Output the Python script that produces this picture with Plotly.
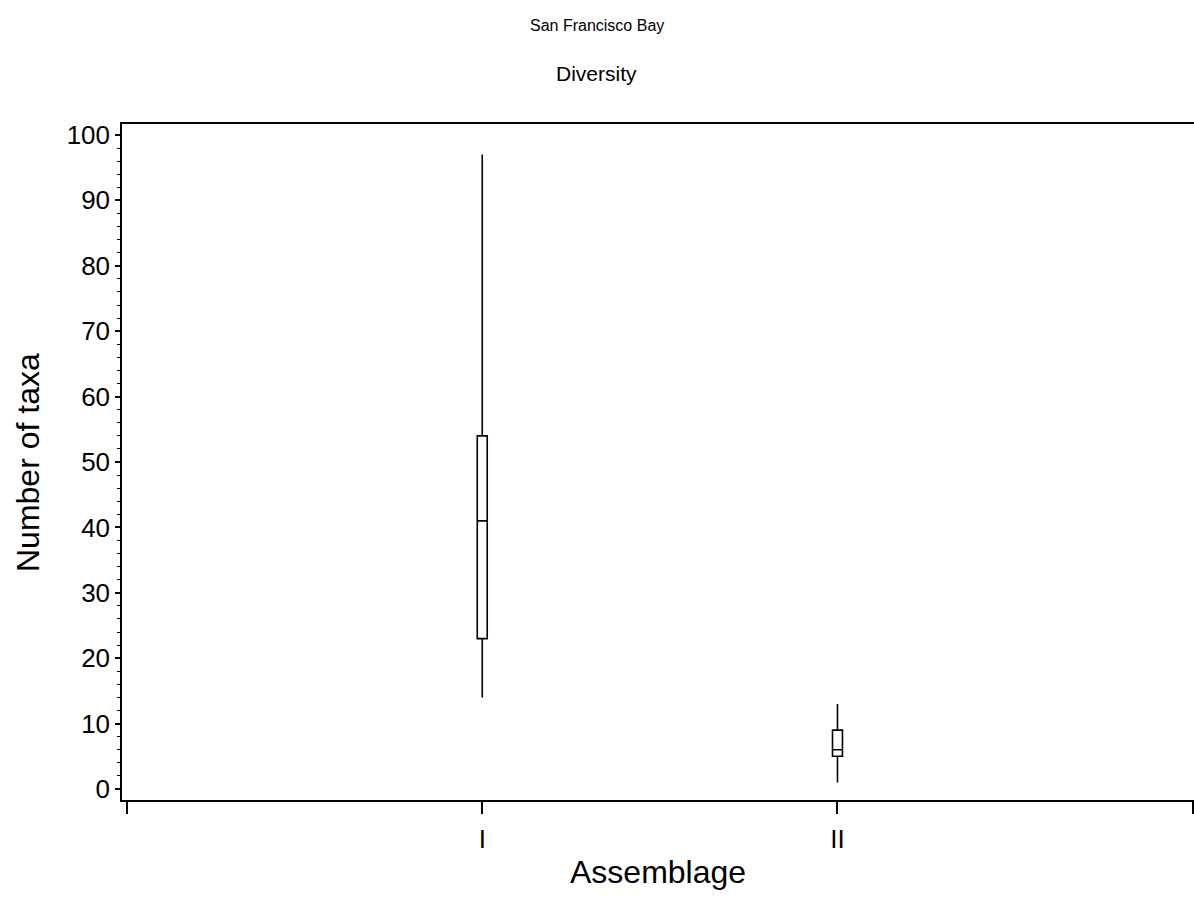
import plotly.graph_objects as go

# Assemblage categories and box statistics (number of taxa)
categories = ["I", "II"]
positions = [1, 2]
lower_fence = [14, 1]
q1 = [23, 5]
median = [41, 6]
q3 = [54, 9]
upper_fence = [97, 13]

tick_vals = [0, 1, 2, 3]
tick_text = ["", "I", "II", ""]

FONT = "Liberation Sans, Arial, sans-serif"

fig = go.Figure()
fig.add_trace(go.Box(
    x=positions,
    q1=q1,
    median=median,
    q3=q3,
    lowerfence=lower_fence,
    upperfence=upper_fence,
    width=0.028,
    whiskerwidth=0,
    fillcolor="white",
    line=dict(color="black", width=1.6),
    boxpoints=False,
    showlegend=False,
    hoverinfo="skip",
))

fig.update_layout(
    width=1194,
    height=920,
    margin=dict(l=122, r=0, t=124, b=120),
    paper_bgcolor="white",
    plot_bgcolor="white",
    font=dict(family=FONT, color="black"),
    xaxis=dict(
        range=[-0.0141, 3.0036],
        tickvals=tick_vals,
        ticktext=tick_text,
        ticks="outside",
        ticklen=12,
        tickwidth=1.5,
        tickcolor="black",
        tickfont=dict(size=26, family=FONT),
        ticklabelstandoff=3,
        showline=True,
        linecolor="black",
        linewidth=1.5,
        mirror=True,
        showgrid=False,
        zeroline=False,
    ),
    yaxis=dict(
        range=[-1.68, 101.68],
        tickvals=list(range(0, 101, 10)),
        ticks="outside",
        ticklen=5,
        tickwidth=1.5,
        tickcolor="black",
        tickfont=dict(size=26, family=FONT),
        minor=dict(dtick=2, ticks="outside", ticklen=3, tickcolor="black", tickwidth=1),
        showline=True,
        linecolor="black",
        linewidth=1.5,
        showgrid=False,
        zeroline=False,
    ),
    annotations=[
        dict(text="San Francisco Bay", xref="paper", yref="paper", x=0.443, y=1.1464,
             showarrow=False, font=dict(size=16, family=FONT), xanchor="center", yanchor="middle"),
        dict(text="Diversity", xref="paper", yref="paper", x=0.443, y=1.074,
             showarrow=False, font=dict(size=21, family=FONT), xanchor="center", yanchor="middle"),
        dict(text="Assemblage", xref="paper", yref="paper", x=0.5, y=-0.1065,
             showarrow=False, font=dict(size=32, family=FONT), xanchor="center", yanchor="middle"),
        dict(text="Number of taxa", xref="paper", yref="paper", x=-0.0877, y=0.5,
             textangle=-90, showarrow=False, font=dict(size=32, family=FONT),
             xanchor="center", yanchor="middle"),
    ],
)

fig.write_html("out.html")
